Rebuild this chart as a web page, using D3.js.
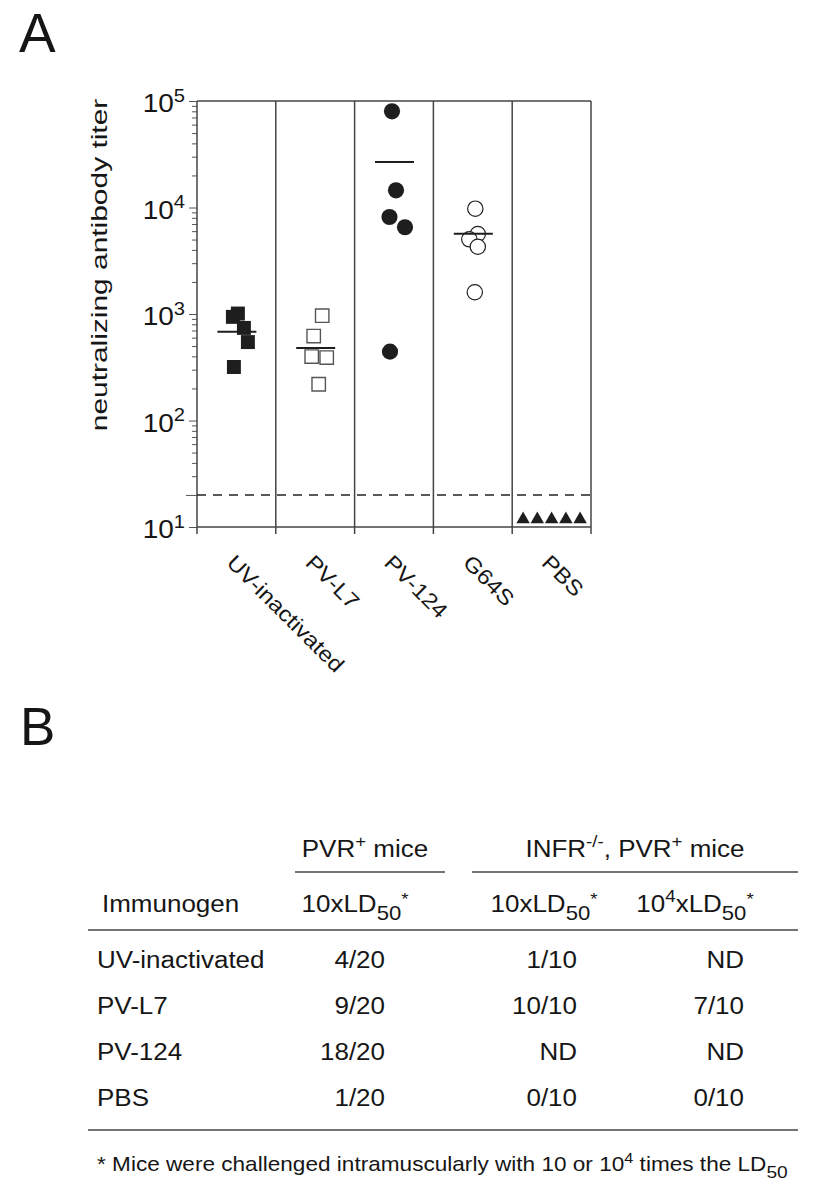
<!DOCTYPE html>
<html>
<head>
<meta charset="utf-8">
<style>
  body { margin: 0; background: #fff; }
  svg { display: block; font-family: "Liberation Sans", Arial, Helvetica, sans-serif; fill: #161616; }
  .frame line { stroke: #444; stroke-width: 1.5px; }
  .y-axis .domain { display: none; }
  .y-axis .tick line { stroke: #555; stroke-width: 1px; }
  .limit { stroke: #222; stroke-width: 1.5px; stroke-dasharray: 9 7; }
  .mean { stroke: #1e1e1e; stroke-width: 2px; }
  .rule { stroke: #444; stroke-width: 1.5px; }
</style>
</head>
<body>
<div id="figure"></div>
<script src="https://d3js.org/d3.v7.min.js"></script>
<script>
// Panel A: neutralizing antibody titers, five mice per immunogen
var categories = ["UV-inactivated", "PV-L7", "PV-124", "G64S", "PBS"];
var uvTiters = [1010, 940, 740, 545, 318];
var pvL7Titers = [964, 621, 398, 390, 219];
var pv124Titers = [80000, 14500, 8150, 6520, 443];
var g64sTiters = [9750, 5640, 5030, 4280, 1600];
var pbsTiters = [11.8, 11.8, 11.8, 11.8, 11.8];
var meanTiters = [680, 480, 26700, 5670, null];
var detectionLimit = 20;
var decadeTicks = [10, 100, 1000, 10000, 100000];

// Panel B: survivors after challenge
var immunogens = ["UV-inactivated", "PV-L7", "PV-124", "PBS"];
var pvrMice10 = ["4/20", "9/20", "18/20", "1/20"];
var infrMice10 = ["1/10", "10/10", "ND", "0/10"];
var infrMice10e4 = ["ND", "7/10", "ND", "0/10"];

var W = 839, H = 1191;
var plot = {left: 197, top: 101, right: 591, bottom: 527};
var STRETCH = 1.13;       // lettering in the figure is set a bit wide
var TITLE_STRETCH = 1.36;

// horizontal spread of the dots inside a column (px from column centre)
var jitter = [
  [1.5, -3.5, 7.5, 11.5, -2.5],
  [7, -1.5, -3.5, 11.5, 3.5],
  [-2, 2, -4.5, 11, -4],
  [2.5, 5, -3.5, 5, 2],
  [-28.5, -14.3, 0, 14.3, 28.5]
];
var markers = [
  {type: d3.symbolSquare, size: 195, fill: "#1e1e1e", stroke: "none", sw: 0},
  {type: d3.symbolSquare, size: 180, fill: "#fff", stroke: "#555", sw: 1.4},
  {type: d3.symbolCircle, size: 205, fill: "#1e1e1e", stroke: "none", sw: 0},
  {type: d3.symbolCircle, size: 185, fill: "#fff", stroke: "#222", sw: 1.2},
  {type: d3.symbolTriangle, size: 78, fill: "#1e1e1e", stroke: "none", sw: 0}
];

var svg = d3.select("#figure").append("svg")
  .attr("width", W)
  .attr("height", H);

// text helper: position, optional rotation, wide lettering
function label(parent, x, y, size, anchor, rotate, stretch) {
  return parent.append("text")
    .attr("transform", "translate(" + x + "," + y + ")" +
      (rotate ? " rotate(" + rotate + ")" : "") +
      " scale(" + (stretch || STRETCH) + ",1)")
    .attr("text-anchor", anchor || "start")
    .style("font-size", size + "px");
}
// runs of text with superscripts / subscripts
function rich(text, parts, size) {
  var shift = 0;
  parts.forEach(function(p) {
    var target = p.sup ? -size * (p.t === "*" ? 0.3 : 0.42) : (p.sub ? size * 0.36 : 0);
    var fs = p.sup ? size * 0.72 : (p.sub ? size * 0.85 : size);
    text.append("tspan")
      .attr("dy", target - shift)
      .style("font-size", fs + "px")
      .text(p.t);
    shift = target;
  });
  return text;
}

// panel letters
svg.append("text").attr("x", 19).attr("y", 52).style("font-size", "55px").text("A");
svg.append("text").attr("x", 20).attr("y", 745).style("font-size", "53px").text("B");

// ---------- Panel A ----------
var y = d3.scaleLog()
  .domain([10, 1e5])
  .range([plot.bottom, plot.top]);

var x = d3.scaleBand()
  .domain(categories)
  .range([plot.left, plot.right]);

var bw = x.bandwidth();

// y axis ticks (minor everywhere, longer at decades and at the limit)
var yAxis = svg.append("g")
  .attr("class", "y-axis")
  .attr("transform", "translate(" + plot.left + ",0)")
  .call(d3.axisLeft(y).tickValues(y.ticks()).tickSize(5).tickFormat(""));

yAxis.selectAll(".tick line")
  .attr("x2", function(d) {
    if (decadeTicks.indexOf(d) >= 0) return -8;
    if (d === detectionLimit) return -11;
    return -5;
  });

decadeTicks.forEach(function(d) {
  var t = label(svg, 185, y(d) + 11, 25, "end", 0, 1.12);
  rich(t, [{t: "10"}, {t: String(Math.round(Math.log10(d))), sup: true}], 25);
});

// axis title
label(svg, 107, 265, 22, "middle", -90, TITLE_STRETCH)
  .text("neutralizing antibody titer");

// frame: top, bottom, column dividers with ticks below
var frame = svg.append("g").attr("class", "frame");
frame.append("line")
  .attr("x1", plot.left).attr("x2", plot.right)
  .attr("y1", y(1e5)).attr("y2", y(1e5));
frame.append("line")
  .attr("x1", plot.left).attr("x2", plot.right)
  .attr("y1", y(10)).attr("y2", y(10));

var edges = categories.map(function(c) { return x(c); }).concat([x.range()[1]]);
frame.selectAll(".edge")
  .data(edges)
  .enter()
  .append("line")
    .attr("class", "edge")
    .attr("x1", function(d) { return d; })
    .attr("x2", function(d) { return d; })
    .attr("y1", y(1e5))
    .attr("y2", y(10) + 7);

// detection limit
svg.append("line")
  .attr("class", "limit")
  .attr("x1", plot.left).attr("x2", plot.right)
  .attr("y1", y(detectionLimit)).attr("y2", y(detectionLimit));

// points
var series = [uvTiters, pvL7Titers, pv124Titers, g64sTiters, pbsTiters];
var points = [];
series.forEach(function(values, i) {
  values.forEach(function(v, j) {
    points.push({cat: categories[i], gi: i, value: v, dx: jitter[i][j]});
  });
});

svg.append("g")
  .selectAll("path")
  .data(points)
  .enter()
  .append("path")
    .attr("transform", function(d) {
      return "translate(" + (x(d.cat) + bw / 2 + d.dx) + "," + y(d.value) + ")";
    })
    .attr("d", function(d) {
      return d3.symbol().type(markers[d.gi].type).size(markers[d.gi].size)();
    })
    .style("fill", function(d) { return markers[d.gi].fill; })
    .style("stroke", function(d) { return markers[d.gi].stroke; })
    .style("stroke-width", function(d) { return markers[d.gi].sw; });

// group means
var means = categories.map(function(c, i) { return {cat: c, value: meanTiters[i]}; })
  .filter(function(d) { return d.value !== null; });

svg.append("g")
  .selectAll("line")
  .data(means)
  .enter()
  .append("line")
    .attr("class", "mean")
    .attr("x1", function(d) { return x(d.cat) + bw / 2 - 19; })
    .attr("x2", function(d) { return x(d.cat) + bw / 2 + 20; })
    .attr("y1", function(d) { return y(d.value); })
    .attr("y2", function(d) { return y(d.value); });

// category labels, slanted
categories.forEach(function(c) {
  label(svg, x(c) + bw / 2 - 11, y(10) + 37, 21.5, "start", 45, 1.12).text(c);
});

// ---------- Panel B ----------
var TFS = 23;
var tb = svg.append("g");

rich(label(tb, 365, 857, TFS, "middle"), [{t: "PVR"}, {t: "+", sup: true}, {t: " mice"}], TFS);
rich(label(tb, 635, 857, TFS, "middle"),
  [{t: "INFR"}, {t: "-/-", sup: true}, {t: ", PVR"}, {t: "+", sup: true}, {t: " mice"}], TFS);

tb.append("line").attr("class", "rule").attr("x1", 295).attr("x2", 445).attr("y1", 872).attr("y2", 872);
tb.append("line").attr("class", "rule").attr("x1", 472).attr("x2", 798).attr("y1", 872).attr("y2", 872);

label(tb, 102, 912, TFS, "start").text("Immunogen");
rich(label(tb, 355, 912, TFS, "middle"), [{t: "10xLD"}, {t: "50", sub: true}, {t: "*", sup: true}], TFS);
rich(label(tb, 544, 912, TFS, "middle"), [{t: "10xLD"}, {t: "50", sub: true}, {t: "*", sup: true}], TFS);
rich(label(tb, 695, 912, TFS, "middle"),
  [{t: "10"}, {t: "4", sup: true}, {t: "xLD"}, {t: "50", sub: true}, {t: "*", sup: true}], TFS);

tb.append("line").attr("class", "rule").attr("x1", 88).attr("x2", 798).attr("y1", 930).attr("y2", 930);

var rowY = d3.scalePoint().domain(immunogens).range([968, 1106]);
var colRight = [385, 577, 744];
var cols = [pvrMice10, infrMice10, infrMice10e4];

immunogens.forEach(function(name, r) {
  label(tb, 97, rowY(name), TFS, "start").text(name);
  cols.forEach(function(col, ci) {
    label(tb, colRight[ci], rowY(name), TFS, "end").text(col[r]);
  });
});

tb.append("line").attr("class", "rule").attr("x1", 88).attr("x2", 798).attr("y1", 1130).attr("y2", 1130);

rich(label(tb, 97, 1171, 20, "start", 0, 1.13),
  [{t: "* Mice were challenged intramuscularly with 10 or 10"}, {t: "4", sup: true},
   {t: " times the LD"}, {t: "50", sub: true}], 20);
</script>
</body>
</html>
